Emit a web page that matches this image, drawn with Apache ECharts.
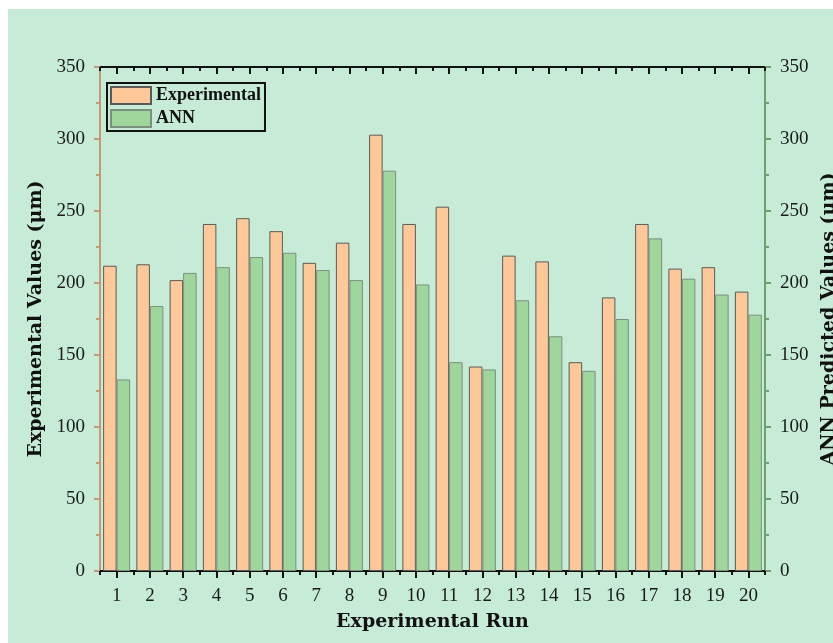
<!DOCTYPE html>
<html>
<head>
<meta charset="utf-8">
<script src="https://cdn.jsdelivr.net/npm/echarts@6/dist/echarts.min.js"></script>
<style>
html,body{margin:0;padding:0;background:#ffffff;}
#c{width:833px;height:643px;}
</style>
</head>
<body>
<div id="c"></div>
<script>
const runs = ['1','2','3','4','5','6','7','8','9','10','11','12','13','14','15','16','17','18','19','20'];
const experimental = [212, 213, 202, 241, 245, 236, 214, 228, 303, 241, 253, 142, 219, 215, 145, 190, 241, 210, 211, 194];
const ann = [133, 184, 207, 211, 218, 221, 209, 202, 278, 199, 145, 140, 188, 163, 139, 175, 231, 203, 192, 178];
const yTicks = {min: 0, max: 350, interval: 50};

const FONT = '"Liberation Serif", "DejaVu Serif", serif';
const TFONT = '"DejaVu Serif", "Liberation Serif", serif';
const chart = echarts.init(document.getElementById('c'), null, {renderer: 'canvas'});

function catAxis(pos, showLabel, tickLen, inside, align, showLine) {
  return {
    type: 'category', data: runs, position: pos,
    boundaryGap: true,
    axisLine: {show: showLine, onZero: false, lineStyle: {color: '#111', width: 2}},
    axisTick: {show: true, alignWithLabel: align, inside: inside, length: tickLen, lineStyle: {color: '#111', width: 2}},
    axisLabel: {show: showLabel, color: '#1a1a1a', fontFamily: FONT, fontSize: 19, margin: 16},
    splitLine: {show: false}
  };
}

const xAxes = [
  Object.assign(catAxis('bottom', true, 7, false, true, true), {
    name: 'Experimental Run', nameLocation: 'middle', nameGap: 42,
    nameTextStyle: {fontFamily: TFONT, fontWeight: 'bold', fontSize: 19, color: '#111'}
  }),
  catAxis('bottom', false, 4, false, false, false),
  catAxis('top', false, 7, true, true, true),
  catAxis('top', false, 4, true, false, false)
];

function valAxis(pos, name, color, gap) {
  return {
    type: 'value', position: pos, min: yTicks.min, max: yTicks.max, interval: yTicks.interval,
    name: name, nameLocation: 'middle', nameGap: gap, nameRotate: 90,
    nameTextStyle: {fontFamily: TFONT, fontWeight: 'bold', fontSize: 19, color: '#111'},
    axisLine: {show: true, lineStyle: {color: color, width: 2}},
    axisTick: {show: true, inside: false, length: 6, lineStyle: {color: color, width: 2}},
    minorTick: {show: true, splitNumber: 2, length: 4, lineStyle: {color: color, width: 2}},
    axisLabel: {color: '#1a1a1a', fontFamily: FONT, fontSize: 19, margin: 15},
    splitLine: {show: false}
  };
}

chart.setOption({
  animation: false,
  backgroundColor: 'transparent',
  graphic: [{
    type: 'rect', left: 8, top: 9, z: -10,
    shape: {width: 825, height: 634},
    style: {fill: '#c6ecd8'}
  }],
  grid: {left: 100, right: 68, top: 67, bottom: 72, containLabel: false, outerBoundsMode: 'none'},
  legend: {
    left: 107, top: 83, orient: 'vertical',
    backgroundColor: 'transparent', borderColor: '#111', borderWidth: 2,
    padding: [3, 4, 3, 3], itemGap: 4, itemWidth: 40, itemHeight: 17,
    icon: 'rect',
    textStyle: {fontFamily: FONT, fontWeight: 'bold', fontSize: 18, color: '#111'},
    data: ['Experimental', 'ANN']
  },
  xAxis: xAxes,
  yAxis: [
    valAxis('left', 'Experimental Values (μm)', '#c49a74', 53),
    valAxis('right', 'ANN Predicted Values (μm)', '#6f9f6f', 47)
  ],
  series: [
    {
      name: 'Experimental', type: 'bar', xAxisIndex: 0, yAxisIndex: 0,
      data: experimental, barWidth: 13.5, barGap: '0%',
      itemStyle: {color: '#fec898', borderColor: '#5a5a5a', borderWidth: 1}
    },
    {
      name: 'ANN', type: 'bar', xAxisIndex: 0, yAxisIndex: 1,
      data: ann, barWidth: 13.5, barGap: '0%',
      itemStyle: {color: '#9ed69c', borderColor: '#7d8f7d', borderWidth: 1}
    }
  ]
});
</script>
</body>
</html>
